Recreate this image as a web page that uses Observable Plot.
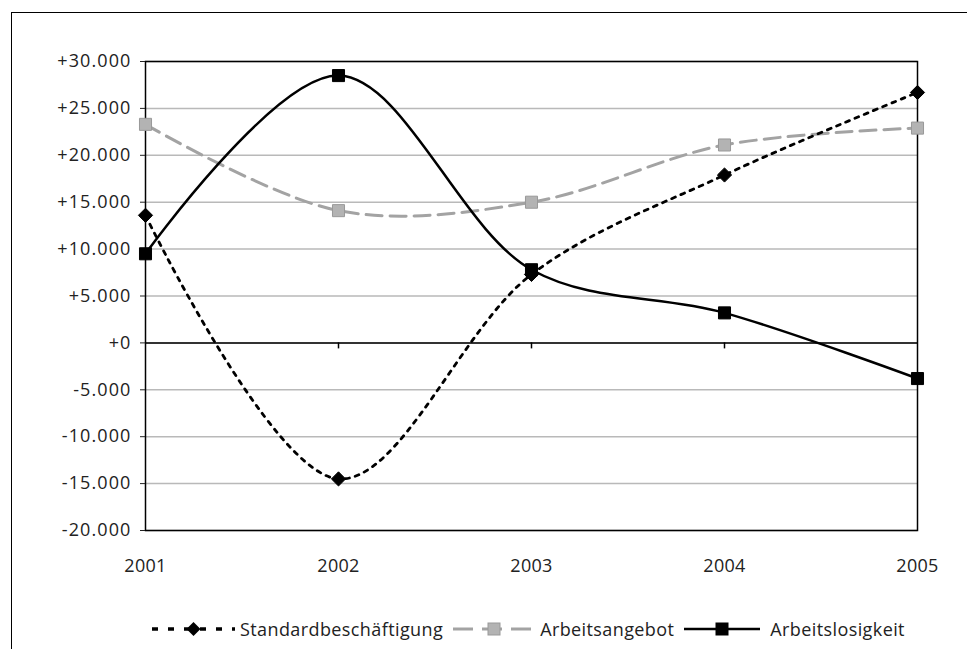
<!DOCTYPE html>
<html>
<head>
<meta charset="utf-8">
<script src="https://cdn.jsdelivr.net/npm/d3@7"></script>
<script src="https://cdn.jsdelivr.net/npm/@observablehq/plot@0.6"></script>
<style>
  html, body { margin: 0; padding: 0; background: #fff; overflow: hidden; width: 967px; height: 649px; }
  #wrap { position: relative; width: 967px; height: 649px; font-family: "Open Sans", sans-serif; }
  #frame { position: absolute; left: 11px; top: 12px; width: 1000px; height: 700px; border-left: 1px solid #000; border-top: 1px solid #000; }
  #chart { position: absolute; left: 0; top: 0; }
  #chart svg text { font-family: "Open Sans", sans-serif !important; font-size: 18px !important; fill: #222; }
  #chart svg [aria-label="y-axis tick label"] text { letter-spacing: 1.1px; }
  #chart svg [aria-label="x-axis tick label"] text { letter-spacing: 0.3px; }
  #legend { position: absolute; top: 617px; left: 150px; display: flex; align-items: center; font-size: 18px; letter-spacing: 0.4px; color: #222; white-space: nowrap; }
  #legend .item { display: flex; align-items: center; }
  #legend svg { display: block; }
</style>
</head>
<body>
<div id="wrap">
  <div id="frame"></div>
  <div id="chart"></div>
  <div id="legend"></div>
</div>
<script>
const years = [2001, 2002, 2003, 2004, 2005];
const standardbeschaeftigung = [13600, -14500, 7300, 17900, 26700];
const arbeitsangebot = [23300, 14100, 15000, 21100, 22900];
const arbeitslosigkeit = [9500, 28500, 7800, 3200, -3800];
const yTicks = [-20000, -15000, -10000, -5000, 0, 5000, 10000, 15000, 20000, 25000, 30000];
const seriesNames = ["Standardbeschäftigung", "Arbeitsangebot", "Arbeitslosigkeit"];

const rows = (vals, name) => years.map((y, i) => ({year: y, value: vals[i], series: name}));
const sStd = rows(standardbeschaeftigung, seriesNames[0]);
const sAng = rows(arbeitsangebot, seriesNames[1]);
const sLos = rows(arbeitslosigkeit, seriesNames[2]);

const loc = d3.formatLocale({decimal: ",", thousands: ".", grouping: [3], currency: ["", ""]});
const fmt = loc.format(",");
const yFmt = d => (d < 0 ? "-" : "+") + fmt(Math.abs(d));

const curve = "catmull-rom";

const chart = Plot.plot({
  width: 967,
  height: 600,
  marginLeft: 145,
  marginRight: 50,
  marginTop: 61,
  marginBottom: 70,
  style: {fontFamily: "Open Sans, sans-serif", fontSize: "18px", color: "#222", background: "transparent"},
  x: {domain: [2001, 2005], ticks: years, tickFormat: d => String(d), label: null},
  y: {domain: [-20000, 30000], ticks: yTicks, label: null},
  marks: [
    Plot.ruleY(yTicks, {stroke: "#b9b9b9", strokeWidth: 1.5}),
    Plot.ruleY([0], {stroke: "#000", strokeWidth: 1.5}),
    Plot.ruleX(years.slice(1, -1), {x: d => d, y1: 0, y2: 0, insetBottom: -6, stroke: "#000", strokeWidth: 1.5}),
    Plot.frame({stroke: "#000", strokeWidth: 1.5}),
    Plot.axisY({ticks: yTicks, tickFormat: yFmt, tickSize: 5, tickPadding: 9, label: null}),
    Plot.axisX({ticks: years, tickFormat: d => String(d), tickSize: 0, tickPadding: 29, label: null}),
    Plot.line(sAng, {x: "year", y: "value", curve, stroke: "#a3a3a3", strokeWidth: 3, strokeDasharray: "16,8"}),
    Plot.line(sStd, {x: "year", y: "value", curve, stroke: "#000", strokeWidth: 2.8, strokeDasharray: "4,6"}),
    Plot.line(sLos, {x: "year", y: "value", curve, stroke: "#000", strokeWidth: 2.5}),
    Plot.dot(sAng, {x: "year", y: "value", symbol: "square", r: 6.8, fill: "#b3b3b3", stroke: "#999", strokeWidth: 1}),
    Plot.dot(sStd, {x: "year", y: "value", symbol: "diamond2", r: 6.4, fill: "#000", stroke: "#000", strokeWidth: 1}),
    Plot.dot(sLos, {x: "year", y: "value", symbol: "square", r: 6.8, fill: "#000", stroke: "#000", strokeWidth: 1})
  ]
});
document.getElementById("chart").appendChild(chart);

// Legend
const legend = document.getElementById("legend");
const legendDefs = [
  {name: seriesNames[0], stroke: "#000", dash: "6,10", width: 3.5, marker: "diamond", fill: "#000", swW: 87, gapAfter: 8, textGap: 3},
  {name: seriesNames[1], stroke: "#a3a3a3", dash: "20,9", width: 3, marker: "square", fill: "#b3b3b3", swW: 86, gapAfter: 8, textGap: 3},
  {name: seriesNames[2], stroke: "#000", dash: null, width: 2.5, marker: "square", fill: "#000", swW: 80, gapAfter: 0, textGap: 8}
];
legendDefs.forEach((d, i) => {
  const item = document.createElement("div");
  item.className = "item";
  item.style.marginRight = d.gapAfter + "px";
  const svg = d3.create("svg").attr("width", d.swW).attr("height", 20);
  svg.append("line").attr("x1", 2).attr("x2", d.swW - 2).attr("y1", 10).attr("y2", 10)
    .attr("stroke", d.stroke).attr("stroke-width", d.width).attr("stroke-dasharray", d.dash);
  const cx = d.swW / 2;
  if (d.marker === "diamond") {
    svg.append("path").attr("d", `M${cx},3L${cx+7},10L${cx},17L${cx-7},10Z`).attr("fill", d.fill);
  } else {
    svg.append("rect").attr("x", cx - 6).attr("y", 4).attr("width", 12).attr("height", 12)
      .attr("fill", d.fill).attr("stroke", i === 1 ? "#999" : "#000");
  }
  item.appendChild(svg.node());
  const t = document.createElement("span");
  t.textContent = d.name;
  t.style.marginLeft = d.textGap + "px";
  item.appendChild(t);
  legend.appendChild(item);
});
</script>
</body>
</html>
